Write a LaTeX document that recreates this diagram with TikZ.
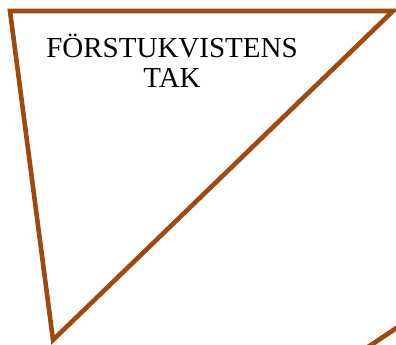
\documentclass[tikz,border=0pt]{standalone}
\usepackage{fontspec}
\setmainfont{Liberation Serif}
\usepackage{xcolor}
\usetikzlibrary{positioning}
\definecolor{roofbrown}{RGB}{156,74,14}

\begin{document}
\begin{tikzpicture}[x=1pt, y=-1pt,
  edge/.style={draw=roofbrown, line width=4.6pt, line join=miter},
  lbl/.style={align=center, font=\fontsize{29}{30}\selectfont, inner sep=0pt}]
\useasboundingbox (0,0) rectangle (396,345);
% roof triangle
\coordinate (tl) at (10,11);
\coordinate (tr) at (393,11);
\coordinate (bt) at (53,340);
\draw[edge] (tl) -- (tr) -- (bt) -- cycle;
% neighbouring roof edge
\coordinate (n1) at (368,347);
\coordinate (n2) at (398,327);
\draw[edge] (n1) -- (n2);
% label
\node[lbl, anchor=base] (name) at (172,87) {FÖRSTUKVISTENS\\TAK};
\end{tikzpicture}
\end{document}
